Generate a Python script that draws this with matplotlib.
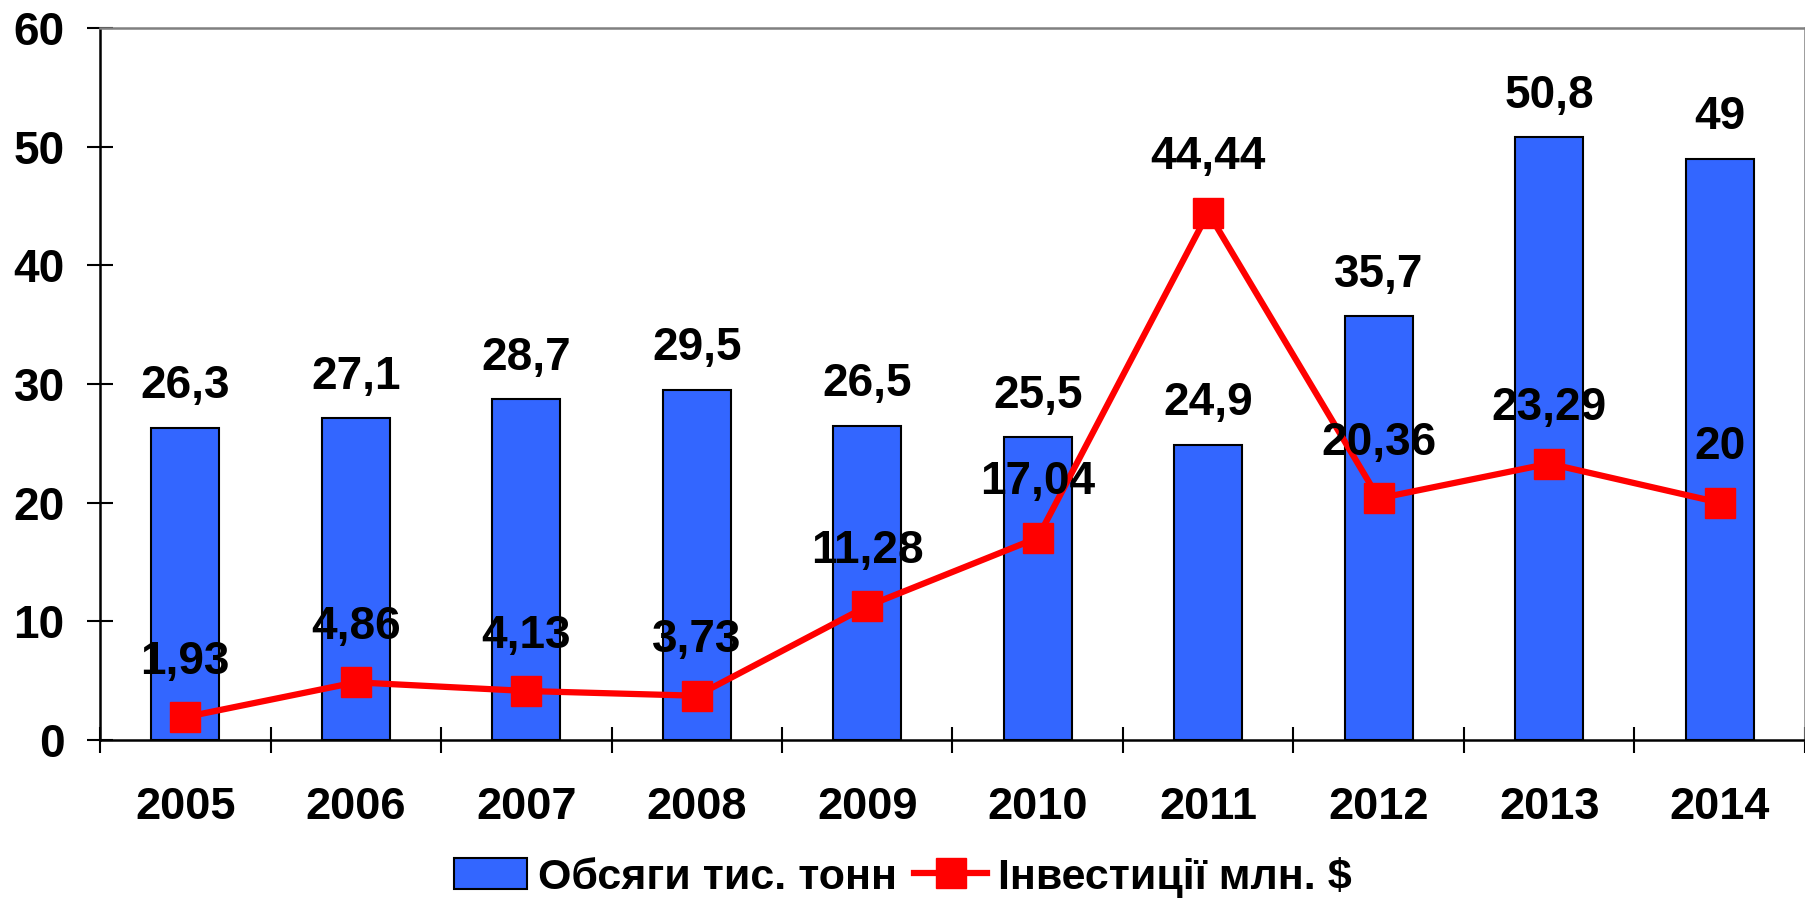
import numpy as np
import matplotlib.pyplot as plt
from matplotlib.patches import Patch
from matplotlib.lines import Line2D

plt.rcParams['font.family'] = ['Liberation Sans', 'DejaVu Sans']
plt.rcParams['font.weight'] = 'bold'

years = ['2005', '2006', '2007', '2008', '2009', '2010', '2011', '2012', '2013', '2014']
volumes = [26.3, 27.1, 28.7, 29.5, 26.5, 25.5, 24.9, 35.7, 50.8, 49]
investments = [1.93, 4.86, 4.13, 3.73, 11.28, 17.04, 44.44, 20.36, 23.29, 20]
volume_labels = ['26,3', '27,1', '28,7', '29,5', '26,5', '25,5', '24,9', '35,7', '50,8', '49']
invest_labels = ['1,93', '4,86', '4,13', '3,73', '11,28', '17,04', '44,44', '20,36', '23,29', '20']

fig = plt.figure(figsize=(18.06, 9.02), dpi=100)
ax = fig.add_axes([0.0554, 0.1796, 0.944, 0.7894])

x = np.arange(len(years))
ax.bar(x, volumes, 0.4, color='#3366FF', edgecolor='black', linewidth=1.5, zorder=2)
ax.plot(x, investments, color='#FF0000', linewidth=4.5, marker='s', markersize=22,
        markerfacecolor='#FF0000', markeredgecolor='#FF0000', zorder=3)

for xi, v, lab in zip(x, volumes, volume_labels):
    ax.annotate(lab, (xi, v), xytext=(0, 14), textcoords='offset points',
                ha='center', va='bottom', fontsize=33, fontweight='bold', zorder=5)
for xi, v, lab in zip(x, investments, invest_labels):
    ax.annotate(lab, (xi, v), xytext=(0, 24), textcoords='offset points',
                ha='center', va='bottom', fontsize=33, fontweight='bold', zorder=5)

ax.set_xlim(-0.5, len(years) - 0.5)
ax.set_ylim(0, 60)
ax.set_yticks(range(0, 61, 10))
ax.set_xticks(x)
ax.set_xticklabels(years)
ax.set_xticks(np.arange(-0.5, len(years), 1), minor=True)
ax.tick_params(axis='x', which='major', length=0, pad=34, labelsize=32.5)
ax.tick_params(axis='x', which='minor', direction='inout', length=19, width=1.5)
ax.tick_params(axis='y', direction='inout', length=19, width=1.5, pad=16, labelsize=33)

for s in ['top', 'right']:
    ax.spines[s].set_color('#808080')
    ax.spines[s].set_linewidth(1.8)
for s in ['left', 'bottom']:
    ax.spines[s].set_color('black')
    ax.spines[s].set_linewidth(1.8)

handles = [Patch(facecolor='#3366FF', edgecolor='black', linewidth=1.5),
           Line2D([], [], color='#FF0000', linewidth=4.5, marker='s', markersize=22)]
fig.legend(handles, ['Обсяги тис. тонн', 'Інвестиції млн. $'], loc='lower center',
           bbox_to_anchor=(0.5, -0.038), ncol=2, frameon=False,
           prop={'size': 31, 'weight': 'bold'}, handlelength=1.7, handleheight=0.75,
           handletextpad=0.25, columnspacing=0.4)

fig.savefig('out.png', dpi=100)
